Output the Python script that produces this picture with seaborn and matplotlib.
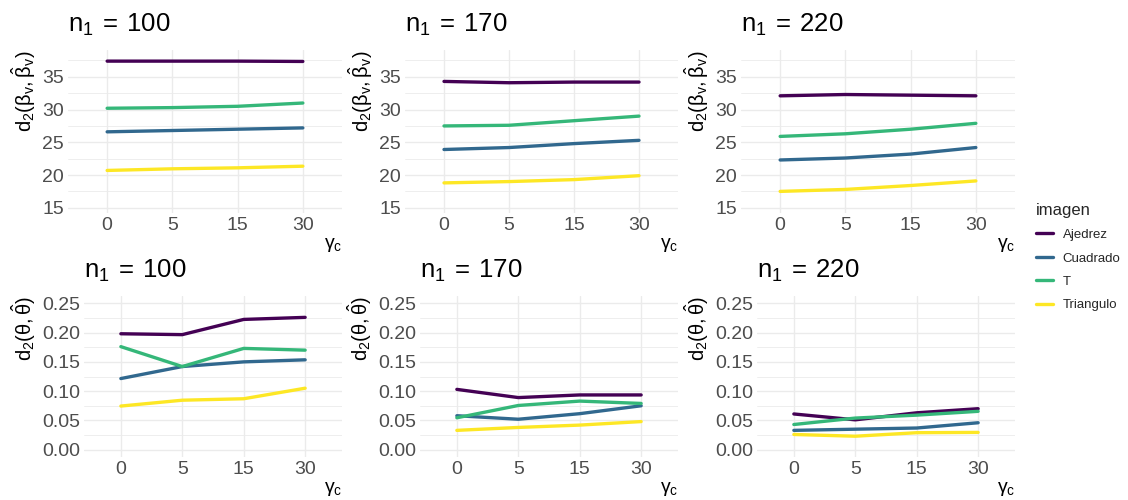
import matplotlib
matplotlib.use("Agg")
import matplotlib.pyplot as plt
from matplotlib.ticker import AutoMinorLocator, FixedLocator
import seaborn as sns
import pandas as pd

# ---------------- data ----------------
gamma_levels = ["0", "5", "15", "30"]
images = ["Ajedrez", "Cuadrado", "T", "Triangulo"]
n1_values = [100, 170, 220]

# distance d2(beta_v, beta_hat_v)
beta_n100 = {"Ajedrez": [37.4, 37.4, 37.4, 37.35],
             "Cuadrado": [26.6, 26.8, 27.0, 27.2],
             "T": [30.2, 30.3, 30.5, 31.0],
             "Triangulo": [20.7, 20.95, 21.1, 21.35]}
beta_n170 = {"Ajedrez": [34.3, 34.1, 34.2, 34.2],
             "Cuadrado": [23.9, 24.2, 24.8, 25.3],
             "T": [27.5, 27.6, 28.3, 29.0],
             "Triangulo": [18.8, 19.0, 19.3, 19.9]}
beta_n220 = {"Ajedrez": [32.1, 32.3, 32.2, 32.1],
             "Cuadrado": [22.3, 22.6, 23.2, 24.2],
             "T": [25.9, 26.3, 27.0, 27.9],
             "Triangulo": [17.5, 17.8, 18.4, 19.1]}

# distance d2(theta, theta_hat)
theta_n100 = {"Ajedrez": [0.198, 0.1965, 0.2225, 0.226],
              "Cuadrado": [0.1215, 0.142, 0.150, 0.1535],
              "T": [0.176, 0.142, 0.173, 0.170],
              "Triangulo": [0.0745, 0.0845, 0.087, 0.105]}
theta_n170 = {"Ajedrez": [0.103, 0.089, 0.0935, 0.0935],
              "Cuadrado": [0.058, 0.052, 0.0615, 0.075],
              "T": [0.0545, 0.0755, 0.083, 0.079],
              "Triangulo": [0.033, 0.038, 0.042, 0.048]}
theta_n220 = {"Ajedrez": [0.061, 0.051, 0.063, 0.070],
              "Cuadrado": [0.033, 0.035, 0.037, 0.046],
              "T": [0.043, 0.054, 0.059, 0.0655],
              "Triangulo": [0.026, 0.023, 0.029, 0.0295]}

beta_by_n = [beta_n100, beta_n170, beta_n220]
theta_by_n = [theta_n100, theta_n170, theta_n220]

palette = ["#440154", "#31688E", "#35B779", "#FDE725"]


def to_long(d):
    rows = []
    for img in images:
        for i, g in enumerate(gamma_levels):
            rows.append({"imagen": img, "gamma": g, "pos": i, "value": d[img][i]})
    return pd.DataFrame(rows)


# ---------------- style ----------------
sns.set_theme(style="white")
plt.rcParams["font.family"] = ["Liberation Sans", "DejaVu Sans"]
plt.rcParams["mathtext.fontset"] = "custom"
plt.rcParams["mathtext.rm"] = "Liberation Sans"
plt.rcParams["mathtext.it"] = "Liberation Sans:italic"
plt.rcParams["mathtext.bf"] = "Liberation Sans:bold"

W, H = 1128, 500
fig = plt.figure(figsize=(W / 100, H / 100), dpi=100)
fig.patch.set_facecolor("white")

top_left = [68, 405, 741]
bot_left = [84, 420, 757]
right_edge = [342, 678, 1015]
top_y = (50, 213)
bot_y = (296, 457)

grid_col = "#EBEBEB"


def make_ax(x0, x1, y0, y1):
    return fig.add_axes([x0 / W, 1 - y1 / H, (x1 - x0) / W, (y1 - y0) / H])


def style_ax(ax, ylim, yticks, ylabel, title):
    ax.set_xlim(-0.6, 3.6)
    ax.set_ylim(*ylim)
    ax.xaxis.set_major_locator(FixedLocator(range(len(gamma_levels))))
    ax.set_xticklabels(gamma_levels)
    ax.set_yticks(yticks)
    ax.yaxis.set_minor_locator(AutoMinorLocator(2))
    ax.grid(which="major", color=grid_col, lw=1.0)
    ax.grid(which="minor", axis="y", color=grid_col, lw=0.6)
    ax.set_axisbelow(True)
    for s in ax.spines.values():
        s.set_visible(False)
    ax.tick_params(which="both", length=0, labelsize=14, labelcolor="#4D4D4D", pad=3)
    ax.set_ylabel(ylabel, fontsize=14.5, color="black", loc="top", labelpad=3)
    ax.set_xlabel(r"$\mathregular{\gamma_c}$", fontsize=14, color="black", loc="right", labelpad=1)
    ax.set_title(title, fontsize=18.5, loc="left", pad=13, color="black")
    if ax.get_legend() is not None:
        ax.get_legend().remove()


beta_label = r"$\mathregular{d_2(\beta_v,\hat{\beta}_v)}$"
theta_label = r"$\mathregular{d_2(\theta,\hat{\theta})}$"

handles = labels = None
for j, n in enumerate(n1_values):
    title = r"$\mathregular{n_1\:=\:%d}$" % n
    # top row
    ax = make_ax(top_left[j], right_edge[j], *top_y)
    sns.lineplot(data=to_long(beta_by_n[j]), x="pos", y="value", hue="imagen",
                 hue_order=images, palette=palette, lw=2.4, ax=ax, sort=False)
    if handles is None:
        handles, labels = ax.get_legend_handles_labels()
    style_ax(ax, (14.2, 39.1), [15, 20, 25, 30, 35], beta_label, title)
    # bottom row
    ax = make_ax(bot_left[j], right_edge[j], *bot_y)
    sns.lineplot(data=to_long(theta_by_n[j]), x="pos", y="value", hue="imagen",
                 hue_order=images, palette=palette, lw=2.4, ax=ax, sort=False)
    style_ax(ax, (-0.0125, 0.2625), [0, 0.05, 0.10, 0.15, 0.20, 0.25], theta_label, title)
    ax.set_yticklabels(["0.00", "0.05", "0.10", "0.15", "0.20", "0.25"])

for h in handles:
    h.set_linewidth(2.4)

leg = fig.legend(handles, labels, title="imagen", loc="upper left",
                 bbox_to_anchor=(1029 / W, 1 - 196 / H), frameon=False,
                 fontsize=9.5, title_fontsize=12, handlelength=1.3,
                 handletextpad=0.75, labelspacing=0.85, borderpad=0,
                 alignment="left")

fig.savefig("out.png", dpi=100, facecolor="white")
